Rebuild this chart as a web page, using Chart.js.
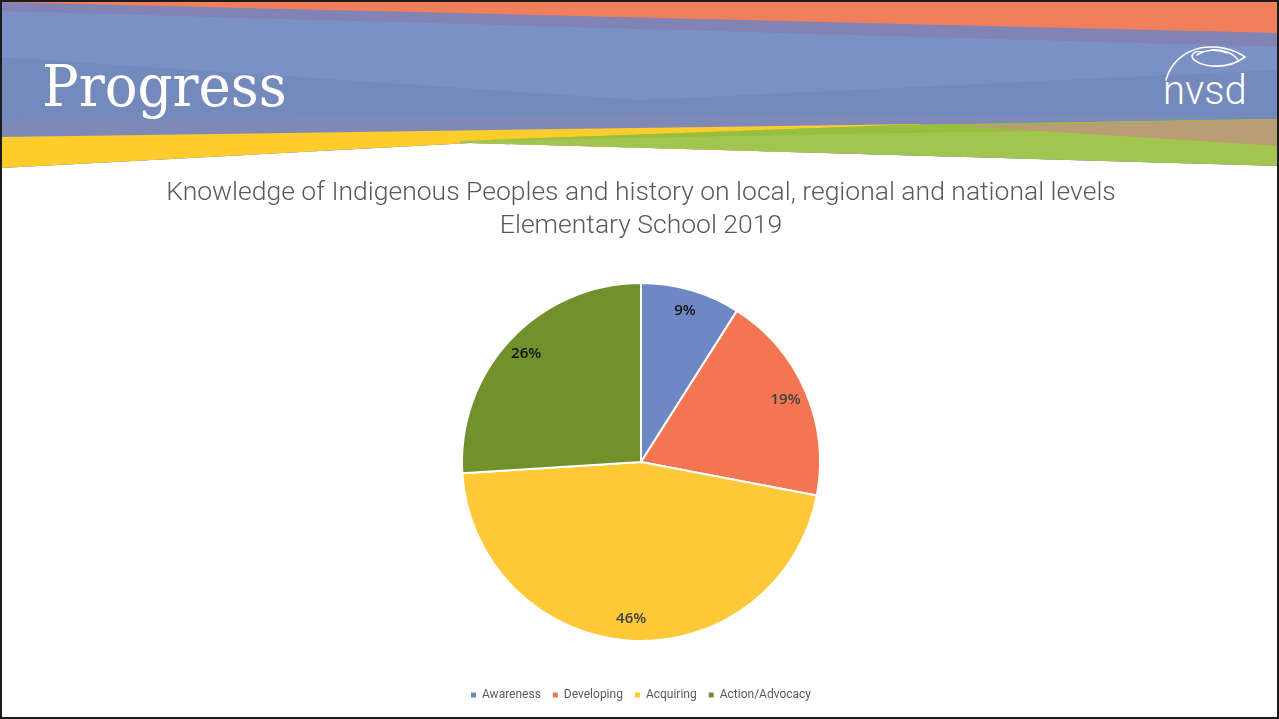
<!DOCTYPE html>
<html>
<head>
<meta charset="utf-8">
<script src="https://cdn.jsdelivr.net/npm/chart.js@4.4.1/dist/chart.umd.min.js"></script>
<style>
  html, body { margin: 0; padding: 0; background: #fff; }
  #slide { position: relative; width: 1279px; height: 719px; overflow: hidden; background: #fff; }
  #banner { position: absolute; left: 0; top: 0; }
  #heading {
    position: absolute; left: 42px; top: 46px; margin: 0;
    font-family: "DejaVu Serif", serif; font-weight: normal; font-size: 58px;
    color: #fff; transform: scaleX(0.94); transform-origin: left top; line-height: 80px;
  }
  #logo {
    position: absolute; left: 1163px; top: 66px;
    font-family: Roboto, sans-serif; font-weight: 300; font-size: 40px; color: #fff; line-height: 50px;
  }
  #chartBox { position: absolute; left: 0; top: 170px; width: 1279px; height: 542px; }
  #frame { position: absolute; left: 0; top: 0; width: 1279px; height: 719px; box-sizing: border-box; border: 2px solid #1b1b1b; pointer-events: none; }
</style>
</head>
<body>
<div id="slide">
  <svg id="banner" width="1279" height="170">
    <defs>
      <clipPath id="band">
        <polygon points="0,0 1279,0 1279,166 470,143 0,168" />
      </clipPath>
    </defs>
    <g clip-path="url(#band)">
      <rect x="0" y="0" width="1279" height="170" fill="#7b90c5" />
      <polygon points="0,57 640,100 1279,70 1279,125 0,125" fill="#7489bc" />
      <polygon points="0,120 640,115 1279,118 1279,170 0,170" fill="#7e89b8" />
      <polygon points="0,0 1279,0 1279,47 0,11" fill="#8283b5" />
      <polygon points="0,0 1279,0 1279,33 0,2" fill="#f27f5c" />
      <polygon points="0,137 920,124 920,150 0,170" fill="#fecd2c" />
      <polygon points="460,141 900,125 1279,119 1279,170 470,170" fill="#a2c54f" />
      <polygon points="460,141 900,125 1279,119 1279,128 900,133" fill="#98be40" />
      <polygon points="960,126 1279,119 1279,146" fill="#b99d74" />
    </g>
    <g fill="none" stroke="#fff" stroke-width="1.6" stroke-linecap="round">
      <path d="M1166,80 C1170,64 1183,52 1200,48 C1217,45 1234,49 1245,57" />
      <path d="M1245,57 C1237,63 1226,67 1212,66 C1200,65 1192,60 1192,56 C1193,52 1198,51 1203,52" />
      <path d="M1197,55 C1206,49 1218,49 1227,53" />
      <path d="M1212,50 C1224,49 1234,54 1238,60" />
    </g>
  </svg>
  <h1 id="heading">Progress</h1>
  <div id="logo">nvsd</div>
  <div id="chartBox"><canvas id="knowledgeChart"></canvas></div>
  <div id="frame"></div>
</div>
<script>
const levels = ['Awareness', 'Developing', 'Acquiring', 'Action/Advocacy'];
const shares = [9, 19, 46, 26];

const sliceColors = ['#6e88c5', '#f37552', '#fdc936', '#72902c'];
const labelInk = ['#111111', '#404040', '#404040', '#111111'];

// percentage text inside each slice, near the outer edge
const sliceLabels = {
    id: 'sliceLabels',
    afterDatasetsDraw(chart) {
        const ctx = chart.ctx;
        const meta = chart.getDatasetMeta(0);
        const values = chart.data.datasets[0].data;
        ctx.save();
        ctx.font = '600 15px "Open Sans", sans-serif';
        ctx.textAlign = 'center';
        ctx.textBaseline = 'middle';
        meta.data.forEach((arc, i) => {
            const p = arc.getProps(['x', 'y', 'startAngle', 'endAngle', 'outerRadius'], true);
            const mid = (p.startAngle + p.endAngle) / 2;
            const r = p.outerRadius * 0.88;
            ctx.fillStyle = labelInk[i];
            ctx.fillText(values[i] + '%', p.x + Math.cos(mid) * r, p.y + Math.sin(mid) * r);
        });
        ctx.restore();
    }
};

const ctx = document.getElementById('knowledgeChart').getContext('2d');

const knowledgeChart = new Chart(ctx, {
    type: 'pie',
    data: {
        labels: levels,
        datasets: [{
            data: shares,
            backgroundColor: sliceColors,
            borderColor: '#ffffff',
            borderWidth: 2,
            radius: 179,
        }],
    },
    options: {
        responsive: true,
        maintainAspectRatio: false,
        animation: false,
        layout: { padding: { left: 3, bottom: 1 } },
        plugins: {
            title: {
                display: true,
                text: ['Knowledge of Indigenous Peoples and history on local, regional and national levels', 'Elementary School 2019'],
                color: '#595959',
                font: { family: 'Roboto', weight: 300, size: 26.5, lineHeight: 1.245 },
                padding: { top: 6.5, bottom: 4.5 },
            },
            legend: {
                position: 'bottom',
                labels: {
                    color: '#595959',
                    font: { family: 'Roboto', size: 12 },
                    boxWidth: 5,
                    boxHeight: 5,
                    padding: 12,
                    generateLabels(chart) {
                        return Chart.overrides.pie.plugins.legend.labels.generateLabels(chart)
                            .map(item => Object.assign(item, { lineWidth: 0 }));
                    },
                },
            },
            tooltip: { enabled: false },
        },
    },
    plugins: [sliceLabels],
});
</script>
</body>
</html>
